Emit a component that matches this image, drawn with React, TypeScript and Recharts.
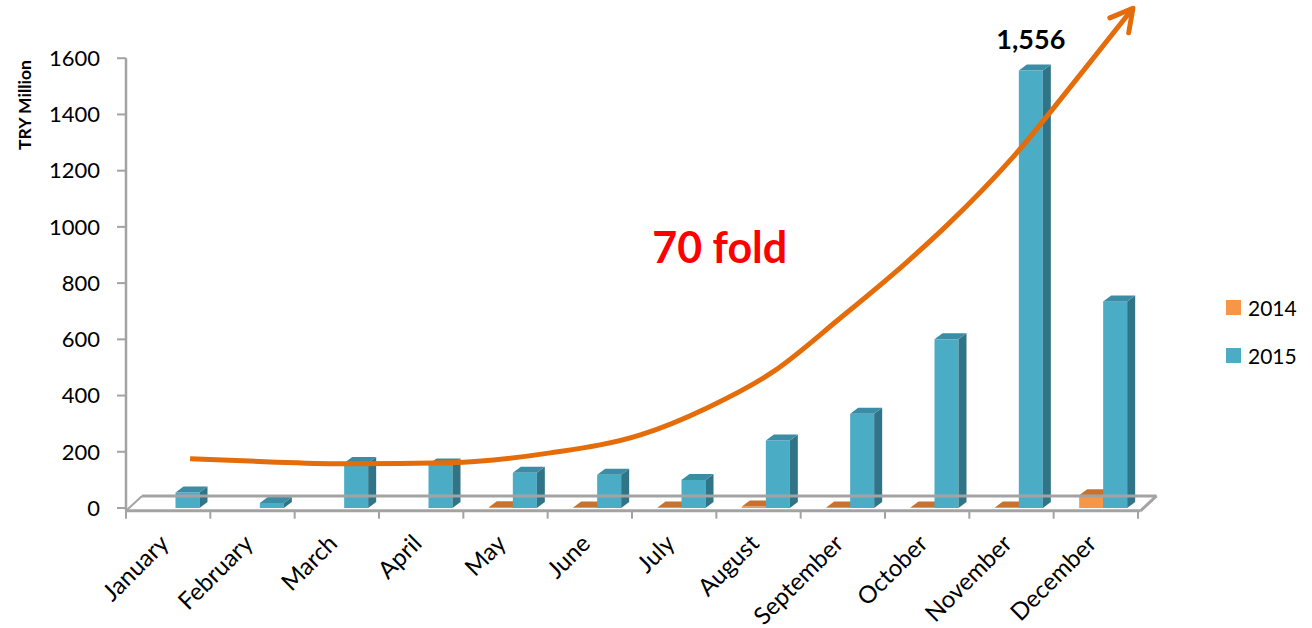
import React from 'react';
import {
  ComposedChart,
  Bar,
  Line,
  XAxis,
  YAxis,
  ReferenceLine,
  ReferenceDot,
  Legend,
  LabelList,
} from 'recharts';

// ---------- data ----------
const months = ['January', 'February', 'March', 'April', 'May', 'June', 'July', 'August', 'September', 'October', 'November', 'December'];
const values2014 = [0, 0, 0, 0, 3, 2, 2, 5, 2, 2, 2, 45];
const values2015 = [55, 18, 160, 155, 125, 118, 100, 240, 335, 600, 1556, 735];
const seriesNames = ['2014', '2015'];
const yTicks = [0, 200, 400, 600, 800, 1000, 1200, 1400, 1600];
// hand-drawn trend arrow (position along the month axis, value)
const trendX = [0.26, 1.21, 2.16, 3.34, 4.53, 5.6, 6.39, 7.17, 7.97, 8.76, 9.24, 10.02, 10.81, 11.44];
const trendV = [175, 164, 157, 161, 196, 260, 356, 484, 676, 875, 1007, 1249, 1540, 1778];
const annotationText = '70 fold';
const annotationX = 6.54;
const annotationV = 872;
const yTitle = 'TRY Million';

// ---------- tables ----------
const barData = months.map((m, i) => ({ month: m, y2014: values2014[i], y2015: values2015[i] }));
const trendData = trendX.map((x, i) => ({ x, trend: trendV[i] }));
const boundaries = [...months.map((_, i) => i - 0.5), months.length - 0.5];

// ---------- styling ----------
const FONT = 'Lato, "Open Sans", sans-serif';
const SHIFT = 7.5;
const DX = 8;
const DY = 6;
const FLOOR_FRONT = -10;
const FLOOR_BACK = 43;
const FLOOR_DEPTH = 0.19;
const GRAY = '#A3A3A3';
const C2014 = { front: '#F79646', top: '#C8722F', side: '#B5622A' };
const C2015 = { front: '#4BACC6', top: '#3A8DA5', side: '#2F7487' };
const TREND = '#E46C0A';

const makeShape = (key: string, c: { front: string; top: string; side: string }) => (props: any) => {
  const { x, y, width, height, payload } = props;
  if (width == null || !payload || !payload[key]) return <g />;
  const X = x + SHIFT;
  const h = Math.max(height, 0);
  return (
    <g>
      <rect x={X} y={y} width={width} height={h} fill={c.front} />
      <polygon
        points={`${X + width},${y} ${X + width + DX},${y - DY} ${X + width + DX},${y + h - DY} ${X + width},${y + h}`}
        fill={c.side}
      />
      <polygon points={`${X},${y} ${X + DX},${y - DY} ${X + width + DX},${y - DY} ${X + width},${y}`} fill={c.top} />
    </g>
  );
};

const MonthTick = (props: any) => {
  const { x, y, payload } = props;
  const tx = x + 2;
  const ty = y + 37;
  return (
    <text x={tx} y={ty} transform={`rotate(-45 ${tx} ${ty})`} textAnchor="end" fontSize={24} fontFamily={FONT} fill="#000">
      {payload.value}
    </text>
  );
};

const ArrowDot = (props: any) => {
  const { cx, cy, index, points } = props;
  if (index !== trendV.length - 1 || cx == null) return <g key={`d${index}`} />;
  let ang = -0.9;
  if (points && points[index - 1]) {
    const p = points[index - 1];
    ang = Math.atan2(cy - p.y, cx - p.x);
  }
  const len = 25;
  const spread = 0.5;
  const a1 = ang + Math.PI - spread;
  const a2 = ang + Math.PI + spread;
  return (
    <path
      key={`d${index}`}
      d={`M${cx + len * Math.cos(a1)},${cy + len * Math.sin(a1)} L${cx},${cy} L${cx + len * Math.cos(a2)},${cy + len * Math.sin(a2)}`}
      stroke={TREND}
      strokeWidth={5}
      fill="none"
      strokeLinecap="round"
      strokeLinejoin="round"
    />
  );
};

const PeakLabel = (props: any) => {
  const { x, y, width, value } = props;
  if (value !== Math.max(...values2015)) return null;
  return (
    <text x={x + width / 2 + SHIFT} y={y - 22} textAnchor="middle" fontSize={27} fontWeight="bold" fontFamily={FONT} fill="#000">
      {Number(value).toLocaleString('en-US')}
    </text>
  );
};

const LegendContent = () => {
  const colors = [C2014.front, C2015.front];
  return (
    <div style={{ fontFamily: FONT }}>
      {seriesNames.map((n, i) => (
        <div key={n} style={{ display: 'flex', alignItems: 'center', height: 48 }}>
          <div style={{ width: 15, height: 15, background: colors[i], marginRight: 7 }} />
          <span style={{ fontSize: 21, color: '#000' }}>{n}</span>
        </div>
      ))}
    </div>
  );
};

export default function App() {
  return (
    <div style={{ position: 'absolute', left: 0, top: 0, width: 1312, height: 628, background: '#fff', fontFamily: FONT }}>
      <ComposedChart
        width={1312}
        height={628}
        data={barData}
        margin={{ top: 2, right: 174, bottom: 10, left: 0 }}
        barGap={0}
      >
        <XAxis
          xAxisId="cat"
          dataKey="month"
          type="category"
          interval={0}
          axisLine={false}
          tickLine={false}
          tickSize={0}
          tickMargin={0}
          height={110}
          tick={<MonthTick />}
        />
        <XAxis xAxisId="num" dataKey="x" type="number" domain={[-0.5, 11.5]} allowDataOverflow hide />
        <YAxis
          type="number"
          domain={[0, 1800]}
          ticks={yTicks}
          width={126}
          axisLine={false}
          tickLine={{ stroke: GRAY, strokeWidth: 2 }}
          tickSize={9}
          tickMargin={17}
          tick={{ fontSize: 22, fill: '#000', fontFamily: FONT }}
          label={{
            content: (p: any) => {
              const vb = p.viewBox || { x: 0, y: 0 };
              const cx = vb.x + 24;
              const cy = vb.y + 103;
              return (
                <text x={cx} y={cy} transform={`rotate(-90 ${cx} ${cy})`} textAnchor="middle" dominantBaseline="central" fontSize={17.5} fontWeight="bold" fontFamily={FONT} fill="#000">
                  {yTitle}
                </text>
              );
            },
          }}
        />
        {/* floor: back edge, side edges */}
        <ReferenceLine
          xAxisId="num"
          segment={[{ x: -0.5 + FLOOR_DEPTH, y: FLOOR_BACK }, { x: 11.5 + FLOOR_DEPTH + 0.03, y: FLOOR_BACK }]}
          stroke={GRAY}
          strokeWidth={3}
          ifOverflow="visible"
        />
        <ReferenceLine
          xAxisId="num"
          segment={[{ x: -0.5, y: FLOOR_FRONT }, { x: -0.5 + FLOOR_DEPTH, y: FLOOR_BACK }]}
          stroke={GRAY}
          strokeWidth={2}
          ifOverflow="visible"
        />
        <ReferenceLine
          xAxisId="num"
          segment={[{ x: 11.5 + 0.03, y: FLOOR_FRONT }, { x: 11.5 + FLOOR_DEPTH + 0.03, y: FLOOR_BACK }]}
          stroke={GRAY}
          strokeWidth={3}
          ifOverflow="visible"
        />
        <Bar xAxisId="cat" dataKey="y2014" name={seriesNames[0]} barSize={24} fill={C2014.front} shape={makeShape('y2014', C2014)} isAnimationActive={false} />
        <Bar xAxisId="cat" dataKey="y2015" name={seriesNames[1]} barSize={24} fill={C2015.front} shape={makeShape('y2015', C2015)} isAnimationActive={false}>
          <LabelList dataKey="y2015" content={<PeakLabel />} />
        </Bar>
        {/* floor front edge, value axis line and category ticks */}
        <ReferenceLine
          xAxisId="num"
          segment={[{ x: -0.5, y: FLOOR_FRONT }, { x: 11.53, y: FLOOR_FRONT }]}
          stroke={GRAY}
          strokeWidth={3}
          ifOverflow="visible"
        />
        <ReferenceLine
          xAxisId="num"
          segment={[{ x: -0.5, y: FLOOR_FRONT }, { x: -0.5, y: 1600 }]}
          stroke={GRAY}
          strokeWidth={2.5}
          ifOverflow="visible"
        />
        {boundaries.map((b) => (
          <ReferenceLine
            key={b}
            xAxisId="num"
            segment={[{ x: b, y: FLOOR_FRONT }, { x: b, y: FLOOR_FRONT - 28 }]}
            stroke={GRAY}
            strokeWidth={2}
            ifOverflow="visible"
          />
        ))}
        <Line
          xAxisId="num"
          data={trendData}
          dataKey="trend"
          type="monotone"
          stroke={TREND}
          strokeWidth={5}
          dot={ArrowDot}
          activeDot={false}
          legendType="none"
          isAnimationActive={false}
        />
        <ReferenceDot
          xAxisId="num"
          x={annotationX}
          y={annotationV}
          r={1}
          fill="none"
          stroke="none"
          ifOverflow="visible"
          label={(p: any) => {
            const vb = p.viewBox || { x: 0, y: 0, width: 0, height: 0 };
            return (
              <text x={vb.x + vb.width / 2} y={vb.y + vb.height / 2} textAnchor="middle" fontSize={43} fontWeight="bold" fontFamily={FONT} fill="#FF0000">
                {annotationText}
              </text>
            );
          }}
        />
        <Legend
          layout="horizontal"
          verticalAlign="middle"
          align="center"
          content={<LegendContent />}
          wrapperStyle={{ left: 1226, top: 283, width: 86, height: 96 }}
        />
      </ComposedChart>
    </div>
  );
}
